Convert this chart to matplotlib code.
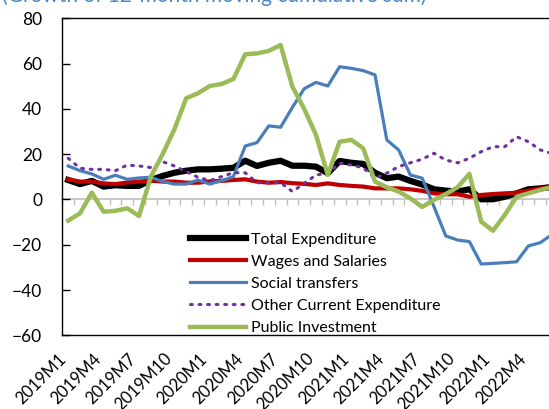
import numpy as np
import matplotlib
matplotlib.use('Agg')
from matplotlib import pyplot as plt
from matplotlib.transforms import ScaledTranslation

plt.rcParams['font.family'] = ['Lato', 'DejaVu Sans']

# months 2019M1 .. 2022M6
months = [f'{y}M{m}' for y in (2019, 2020, 2021, 2022) for m in range(1, 13)][:42]

total_exp = [8.6, 6.8, 8.2, 5.7, 6.3, 6.0, 6.0, 8.6, 10.4, 11.8,
             12.7, 13.3, 13.3, 13.6, 14.0, 17.1, 14.8, 16.2, 17.1, 14.9,
             14.9, 14.5, 11.6, 17.0, 16.2, 15.7, 11.8, 9.4, 10.1, 8.2,
             6.6, 4.5, 3.9, 3.5, 4.5, 0.1, 0.1, 1.2, 2.7, 4.5,
             4.9, 5.5]
wages = [8.9, 7.9, 7.9, 7.1, 6.8, 7.5, 7.9, 8.3, 7.9, 7.9,
         7.4, 7.4, 8.0, 8.2, 8.6, 8.9, 7.9, 7.4, 7.7, 7.2,
         6.9, 6.4, 7.1, 6.4, 6.0, 5.7, 4.9, 4.9, 4.9, 4.5,
         3.8, 2.7, 2.3, 2.3, 1.2, 2.0, 2.4, 2.7, 3.0, 3.9,
         4.9, 5.5]
social = [14.8, 12.7, 11.3, 8.9, 10.7, 8.9, 9.5, 9.8, 7.9, 6.8,
          6.8, 8.6, 6.8, 8.3, 10.1, 23.6, 25.1, 32.5, 31.9, 40.7,
          48.9, 51.7, 50.1, 58.6, 57.9, 56.9, 55.0, 26.3, 21.9, 10.8,
          9.4, -3.2, -16.1, -17.9, -18.6, -28.5, -28.2, -27.9, -27.5, -20.5,
          -19.1, -15.5]
other_current = [18.2, 13.8, 13.3, 13.3, 12.7, 15.2, 14.8, 14.1, 16.7, 14.8,
                 12.3, 9.8, 8.3, 10.1, 11.8, 11.8, 7.4, 7.4, 7.4, 3.5,
                 7.1, 10.8, 11.6, 16.0, 15.2, 14.0, 9.4, 11.6, 14.5, 16.2,
                 17.8, 20.4, 17.4, 16.2, 18.2, 21.1, 23.3, 23.3, 27.7, 25.5,
                 21.9, 20.3]
public_inv = [-9.3, -6.1, 3.0, -5.4, -5.0, -3.9, -7.3, 10.0, 20.0, 31.0,
              44.7, 46.9, 50.1, 51.0, 53.2, 64.1, 64.5, 65.6, 68.2, 49.8,
              40.0, 28.5, 10.8, 25.5, 26.3, 22.6, 7.9, 5.4, 3.5, 0.5,
              -3.3, -0.2, 2.4, 5.4, 11.3, -9.8, -13.8, -6.8, 1.2, 2.7,
              4.2, 5.5]

x = np.arange(len(months))

fig = plt.figure(figsize=(5.49, 4.09), dpi=100)
ax = fig.add_axes([0.1135, 0.18, 0.9027, 0.7753])

ax.plot(x, total_exp, color='black', lw=4.5, label='Total Expenditure', solid_joinstyle='round')
ax.plot(x, wages, color='#C00000', lw=3.0, label='Wages and Salaries')
ax.plot(x, social, color='#4A7EBB', lw=2.3, label='Social transfers')
ax.plot(x, other_current, color='#7030A0', lw=2.2, ls=(0, (0.6, 2.2)),
        dash_capstyle='round', label='Other Current Expenditure')
ax.plot(x, public_inv, color='#9BBB59', lw=3.2, label='Public Investment')

ymin, ymax = -60, 80
ax.set_ylim(ymin, ymax)
ax.set_xlim(-0.5, len(months) - 0.5)
ax.set_yticks(np.arange(-60, 81, 20))
ax.tick_params(axis='y', direction='in', length=6, width=1, labelsize=12.5, pad=14.5)
for s in ax.spines.values():
    s.set_color('black')
    s.set_linewidth(1)

# category labels every third month, rotated
ax.set_xticks(x[::3])
ax.set_xticklabels(months[::3], rotation=45, ha='right', va='center',
                   rotation_mode='anchor')
ax.tick_params(axis='x', length=0, labelsize=12, pad=15)
shift = ScaledTranslation(-0.05, 0, fig.dpi_scale_trans)
for lab in ax.get_xticklabels():
    lab.set_transform(lab.get_transform() + shift)

# zero line with monthly tick marks
zero = ax.secondary_xaxis((0 - ymin) / (ymax - ymin))
zero.spines['bottom'].set_color('#BFBFBF')
zero.spines['bottom'].set_linewidth(1.2)
zero.set_xticks(np.arange(-0.5, len(months), 1.0))
zero.tick_params(axis='x', direction='out', length=4, color='#BFBFBF', width=1,
                 labelbottom=False)

ax.legend(loc='upper left', bbox_to_anchor=(0.245, 0.345), frameon=False,
          fontsize=11.5, handlelength=3.5, handletextpad=0.3, labelspacing=0.5,
          borderaxespad=0)

fig.text(0.004, 0.996, '(Growth of 12-month moving cumulative sum)',
         color='#4A86C8', fontsize=15, va='baseline', ha='left')

fig.savefig('out.png', dpi=100)
